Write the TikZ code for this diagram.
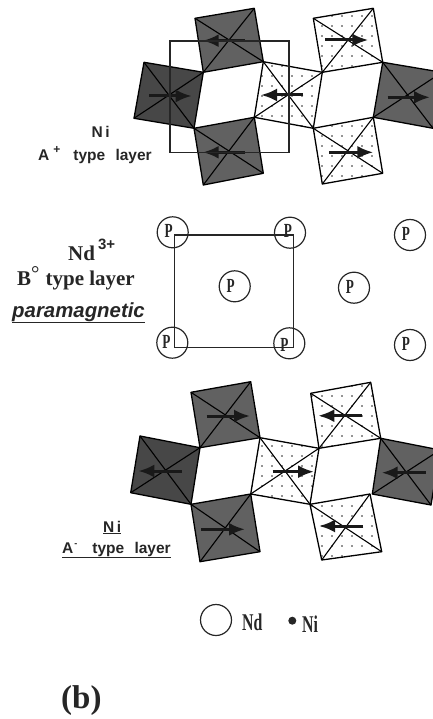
\documentclass[tikz,border=0pt]{standalone}
\usepackage{fontspec}
\setmainfont{Liberation Serif}
\setsansfont{Liberation Sans}
\newfontfamily\narrowserif[FakeStretch=0.66]{Liberation Serif}
\usetikzlibrary{arrows.meta,positioning}
\usetikzlibrary{patterns.meta}
\tikzset{
  tile/.style={draw=black,line width=1.3pt,line join=round},
  midtile/.style={tile,fill=black!62},
  darktile/.style={tile,fill=black!72},
  dottile/.style={pattern={Dots[distance=10pt,radius=0.8pt,xshift=2pt,yshift=3pt]},pattern color=black!85},
  diag/.style={draw=black,line width=1.1pt},
  spin/.style={->,draw=black!90,line width=3pt},
  frame/.style={draw=black!85,line width=1.2pt},
  ndatom/.style={circle,draw=black!85,line width=1.2pt,minimum size=31pt,inner sep=0pt},
  ptext/.style={font=\narrowserif\bfseries\fontsize{20}{20}\selectfont,inner sep=0pt,text=black!85},
  keytext/.style={font=\narrowserif\bfseries\fontsize{24}{24}\selectfont,inner sep=0pt,anchor=base west,text=black!85},
  sanslabel/.style={font=\sffamily\bfseries\fontsize{15.5}{16}\selectfont,inner sep=0pt,anchor=base west,text=black!85},
  seriflabel/.style={font=\bfseries\fontsize{21}{22}\selectfont,inner sep=0pt,anchor=base west,text=black!85}
}

\begin{document}
\begin{tikzpicture}[x=1pt,y=-1pt,>={Latex[length=16pt,width=13pt]}]
\useasboundingbox (0,0) rectangle (433,719);
\clip (0,0) rectangle (433,719);

% A+ layer
\begin{scope}
\coordinate(ta) at(195,18.3);
\coordinate(tb) at(254.3,8.3);
\coordinate(tc) at(263.3,61.7);
\coordinate(td) at(203.3,72.3);
\coordinate(sa) at(245,40.7);
\coordinate(sb) at(202.7,40.7);
\path[midtile] (ta) -- (tb) -- (tc) -- (td) -- cycle;
\draw[diag] (ta) -- (tc);
\draw[diag] (tb) -- (td);
\draw[spin] (sa) -- (sb);
\end{scope}

\begin{scope}
\coordinate(ta) at(144,62.3);
\coordinate(tb) at(203.3,72.3);
\coordinate(tc) at(194,128.3);
\coordinate(td) at(134,118.3);
\coordinate(sa) at(149.3,96);
\coordinate(sb) at(191.7,96);
\path[darktile] (ta) -- (tb) -- (tc) -- (td) -- cycle;
\draw[diag] (ta) -- (tc);
\draw[diag] (tb) -- (td);
\draw[spin] (sa) -- (sb);
\end{scope}

\begin{scope}
\coordinate(ta) at(194,128.3);
\coordinate(tb) at(254.3,117.3);
\coordinate(tc) at(263.3,173.3);
\coordinate(td) at(203.3,185);
\coordinate(sa) at(245,152.3);
\coordinate(sb) at(202.7,152.3);
\path[midtile] (ta) -- (tb) -- (tc) -- (td) -- cycle;
\draw[diag] (ta) -- (tc);
\draw[diag] (tb) -- (td);
\draw[spin] (sa) -- (sb);
\end{scope}

\begin{scope}
\coordinate(ta) at(263.3,61.7);
\coordinate(tb) at(322.3,72.3);
\coordinate(tc) at(313.3,128.3);
\coordinate(td) at(254.3,117.3);
\coordinate(sa) at(303.3,95);
\coordinate(sb) at(261,95);
\path[dottile] (ta) -- (tb) -- (tc) -- (td) -- cycle;
\draw[tile] (ta) -- (tb) -- (tc) -- (td) -- cycle;
\draw[diag] (ta) -- (tc);
\draw[diag] (tb) -- (td);
\draw[spin] (sa) -- (sb);
\end{scope}

\begin{scope}
\coordinate(ta) at(313.3,18.3);
\coordinate(tb) at(373.3,8.3);
\coordinate(tc) at(382.7,62.3);
\coordinate(td) at(322.3,72.3);
\coordinate(sa) at(325,40);
\coordinate(sb) at(368.3,40);
\path[dottile] (ta) -- (tb) -- (tc) -- (td) -- cycle;
\draw[tile] (ta) -- (tb) -- (tc) -- (td) -- cycle;
\draw[diag] (ta) -- (tc);
\draw[diag] (tb) -- (td);
\draw[spin] (sa) -- (sb);
\end{scope}

\begin{scope}
\coordinate(ta) at(313.3,128.3);
\coordinate(tb) at(373.3,117.3);
\coordinate(tc) at(382.7,173.3);
\coordinate(td) at(322.3,184);
\coordinate(sa) at(329.3,152.3);
\coordinate(sb) at(373.3,152.3);
\path[dottile] (ta) -- (tb) -- (tc) -- (td) -- cycle;
\draw[tile] (ta) -- (tb) -- (tc) -- (td) -- cycle;
\draw[diag] (ta) -- (tc);
\draw[diag] (tb) -- (td);
\draw[spin] (sa) -- (sb);
\end{scope}

\begin{scope}
\coordinate(ta) at(382.7,62.3);
\coordinate(tb) at(442,72.3);
\coordinate(tc) at(433,128.3);
\coordinate(td) at(373.3,117.3);
\coordinate(sa) at(387.7,97.3);
\coordinate(sb) at(430,97.3);
\path[midtile] (ta) -- (tb) -- (tc) -- (td) -- cycle;
\draw[diag] (ta) -- (tc);
\draw[diag] (tb) -- (td);
\draw[spin] (sa) -- (sb);
\end{scope}

\coordinate(fa) at(170,41);
\coordinate(fb) at(289,152.7);
\draw[frame] (fa) rectangle (fb);

\node[sanslabel] (ni1) at(91.5,138) {N\,i};
\node[sanslabel] (aplus) at(38,161) {A\hspace{4pt}\raisebox{7pt}{\fontsize{12}{12}\selectfont +}\hspace{13pt}type\hspace{6pt} layer};

% B layer
\coordinate(fc) at(174.7,235);
\coordinate(fd) at(293.3,347.3);
\draw[frame] (fc) rectangle (fd);

\node[ndatom] (nd1) at(172.7,232.3) {};
\node[ndatom] (nd2) at(290,232.7) {};
\node[ndatom] (nd3) at(234.7,286.3) {};
\node[ndatom] (nd4) at(354,287.7) {};
\node[ndatom] (nd5) at(410,235) {};
\node[ndatom] (nd6) at(172.3,342.7) {};
\node[ndatom] (nd7) at(289.3,343.3) {};
\node[ndatom] (nd8) at(410,345) {};

\node[ptext] (p1) at([xshift=-4pt,yshift=1pt]nd1.center) {P};
\node[ptext] (p2) at([xshift=-2pt,yshift=2pt]nd2.center) {P};
\node[ptext] (p3) at([xshift=-4pt,yshift=0pt]nd3.center) {P};
\node[ptext] (p4) at([xshift=-4pt,yshift=1pt]nd4.center) {P};
\node[ptext] (p5) at([xshift=-4pt,yshift=1pt]nd5.center) {P};
\node[ptext] (p6) at([xshift=-6pt,yshift=1pt]nd6.center) {P};
\node[ptext] (p7) at([xshift=-5pt,yshift=-2pt]nd7.center) {P};
\node[ptext] (p8) at([xshift=-4pt,yshift=1pt]nd8.center) {P};

\node[seriflabel] (nd) at(68,260) {Nd\hspace{3pt}\raisebox{11pt}{\sffamily\fontsize{15}{15}\selectfont 3+}};
\node[seriflabel] (bzero) at(17,285) {B\raisebox{5pt}{\normalfont °}\hspace{6pt}type layer};
\node[sanslabel,font=\sffamily\bfseries\itshape\fontsize{20.4}{21}\selectfont] (para) at(12,317) {\underline{paramagnetic}};

% A- layer
\begin{scope}
\coordinate(ta) at(191,392.3);
\coordinate(tb) at(250.7,381.7);
\coordinate(tc) at(260,437.7);
\coordinate(td) at(200,447.7);
\coordinate(sa) at(206.7,416);
\coordinate(sb) at(250,416);
\path[midtile] (ta) -- (tb) -- (tc) -- (td) -- cycle;
\draw[diag] (ta) -- (tc);
\draw[diag] (tb) -- (td);
\draw[spin] (sa) -- (sb);
\end{scope}

\begin{scope}
\coordinate(ta) at(140,436);
\coordinate(tb) at(200,447.7);
\coordinate(tc) at(191,504.3);
\coordinate(td) at(130.7,492.7);
\coordinate(sa) at(181.7,471);
\coordinate(sb) at(138.3,471);
\path[darktile] (ta) -- (tb) -- (tc) -- (td) -- cycle;
\draw[diag] (ta) -- (tc);
\draw[diag] (tb) -- (td);
\draw[spin] (sa) -- (sb);
\end{scope}

\begin{scope}
\coordinate(ta) at(191,504.3);
\coordinate(tb) at(250.7,494);
\coordinate(tc) at(260,551.7);
\coordinate(td) at(200,561.7);
\coordinate(sa) at(201,529.3);
\coordinate(sb) at(245,529.3);
\path[midtile] (ta) -- (tb) -- (tc) -- (td) -- cycle;
\draw[diag] (ta) -- (tc);
\draw[diag] (tb) -- (td);
\draw[spin] (sa) -- (sb);
\end{scope}

\begin{scope}
\coordinate(ta) at(260,437.7);
\coordinate(tb) at(319,448.3);
\coordinate(tc) at(310,504.3);
\coordinate(td) at(250.7,494);
\coordinate(sa) at(272.7,471.7);
\coordinate(sb) at(314,471.7);
\path[dottile] (ta) -- (tb) -- (tc) -- (td) -- cycle;
\draw[tile] (ta) -- (tb) -- (tc) -- (td) -- cycle;
\draw[diag] (ta) -- (tc);
\draw[diag] (tb) -- (td);
\draw[spin] (sa) -- (sb);
\end{scope}

\begin{scope}
\coordinate(ta) at(310.7,393.3);
\coordinate(tb) at(370.7,382.3);
\coordinate(tc) at(380.7,438.3);
\coordinate(td) at(319,448.3);
\coordinate(sa) at(362.3,415.7);
\coordinate(sb) at(318.3,415.7);
\path[dottile] (ta) -- (tb) -- (tc) -- (td) -- cycle;
\draw[tile] (ta) -- (tb) -- (tc) -- (td) -- cycle;
\draw[diag] (ta) -- (tc);
\draw[diag] (tb) -- (td);
\draw[spin] (sa) -- (sb);
\end{scope}

\begin{scope}
\coordinate(ta) at(310,504.3);
\coordinate(tb) at(370,494);
\coordinate(tc) at(381.7,551.7);
\coordinate(td) at(321.7,560);
\coordinate(sa) at(363.3,526);
\coordinate(sb) at(319,526);
\path[dottile] (ta) -- (tb) -- (tc) -- (td) -- cycle;
\draw[tile] (ta) -- (tb) -- (tc) -- (td) -- cycle;
\draw[diag] (ta) -- (tc);
\draw[diag] (tb) -- (td);
\draw[spin] (sa) -- (sb);
\end{scope}

\begin{scope}
\coordinate(ta) at(380.7,438.3);
\coordinate(tb) at(440,450);
\coordinate(tc) at(431,505);
\coordinate(td) at(372.3,494);
\coordinate(sa) at(425.7,472.7);
\coordinate(sb) at(381.7,472.7);
\path[midtile] (ta) -- (tb) -- (tc) -- (td) -- cycle;
\draw[diag] (ta) -- (tc);
\draw[diag] (tb) -- (td);
\draw[spin] (sa) -- (sb);
\end{scope}

\node[sanslabel] (ni2) at(103,532) {\underline{N\,i}};
\node[sanslabel] (aminus) at(62,553) {\underline{A\hspace{1pt}\raisebox{7pt}{\fontsize{9}{9}\selectfont -}\hspace{15pt}type\hspace{6pt} layer}};

% legend
\node[ndatom] (ndkey) at(216,620) {};
\node[keytext] (ndtext) at(242,630) {Nd};
\node[circle,fill=black!85,minimum size=8pt,inner sep=0pt] (nikey) at(292.3,620.7) {};
\node[keytext] (nitext) at(302,632) {Ni};

\node[seriflabel,font=\bfseries\fontsize{33}{33}\selectfont] (tagb) at(61,708) {(b)};

\end{tikzpicture}
\end{document}
